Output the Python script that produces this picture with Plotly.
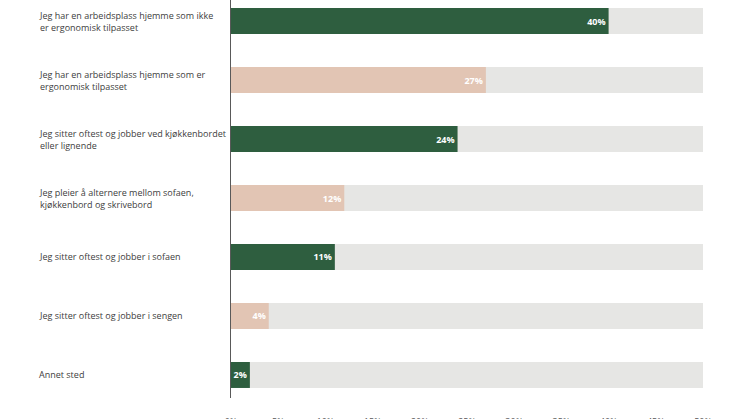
import plotly.graph_objects as go

categories = [
    "Jeg har en arbeidsplass hjemme som ikke<br>er ergonomisk tilpasset",
    "Jeg har en arbeidsplass hjemme som er<br>ergonomisk tilpasset",
    "Jeg sitter oftest og jobber ved kjøkkenbordet<br>eller lignende",
    "Jeg pleier å alternere mellom sofaen,<br>kjøkkenbord og skrivebord",
    "Jeg sitter oftest og jobber i sofaen",
    "Jeg sitter oftest og jobber i sengen",
    "Annet sted",
]
values = [40, 27, 24, 12, 11, 4, 2]
background = [50, 50, 50, 50, 50, 50, 50]
tick_values = [0, 5, 10, 15, 20, 25, 30, 35, 40, 45, 50]
tick_labels = ["0%", "5%", "10%", "15%", "20%", "25%", "30%", "35%", "40%", "45%", "50%"]

GREEN = "#2e5e3f"
PINK = "#e2c5b4"
GREY = "#e6e6e4"
bar_colors = [GREEN if i % 2 == 0 else PINK for i in range(len(values))]

ids = list(range(len(categories)))

fig = go.Figure()
fig.add_trace(go.Bar(
    y=ids, x=background, orientation="h",
    marker=dict(color=GREY, line=dict(width=0)),
    width=0.44, hoverinfo="skip", showlegend=False,
))
fig.add_trace(go.Bar(
    y=ids, x=values, orientation="h",
    marker=dict(color=bar_colors, line=dict(width=0)),
    width=0.44,
    text=[f"{v}%" for v in values],
    textposition="inside", insidetextanchor="end", textangle=0,
    textfont=dict(family="Open Sans", size=9, color="white", weight="bold"),
    constraintext="none",
    showlegend=False,
))

for i, c in enumerate(categories):
    fig.add_annotation(
        xref="paper", yref="y", x=0, y=i, xshift=-194,
        xanchor="left", yanchor="middle", align="left",
        text=c, showarrow=False,
        font=dict(family="Open Sans", size=9, color="#404040"),
    )

fig.update_layout(
    width=746, height=419,
    margin=dict(l=231, r=43, t=0, b=21),
    barmode="overlay",
    plot_bgcolor="white", paper_bgcolor="white",
    font=dict(family="Open Sans"),
)
fig.update_xaxes(
    range=[0, 50], tickvals=tick_values, ticktext=tick_labels,
    showgrid=False, zeroline=False, showline=False, automargin=False,
    ticks="outside", ticklen=15, tickcolor="rgba(0,0,0,0)",
    tickfont=dict(family="Open Sans", size=9, color="#595959"),
)
fig.update_yaxes(
    range=[6.39, -0.356], showticklabels=False, showgrid=False, automargin=False,
    zeroline=False, showline=True, linecolor="#595959", linewidth=1,
)

fig.write_html(
    "out.html",
    config={"displayModeBar": False},
    post_script="document.body.style.margin='0';document.body.style.overflow='hidden';",
)
